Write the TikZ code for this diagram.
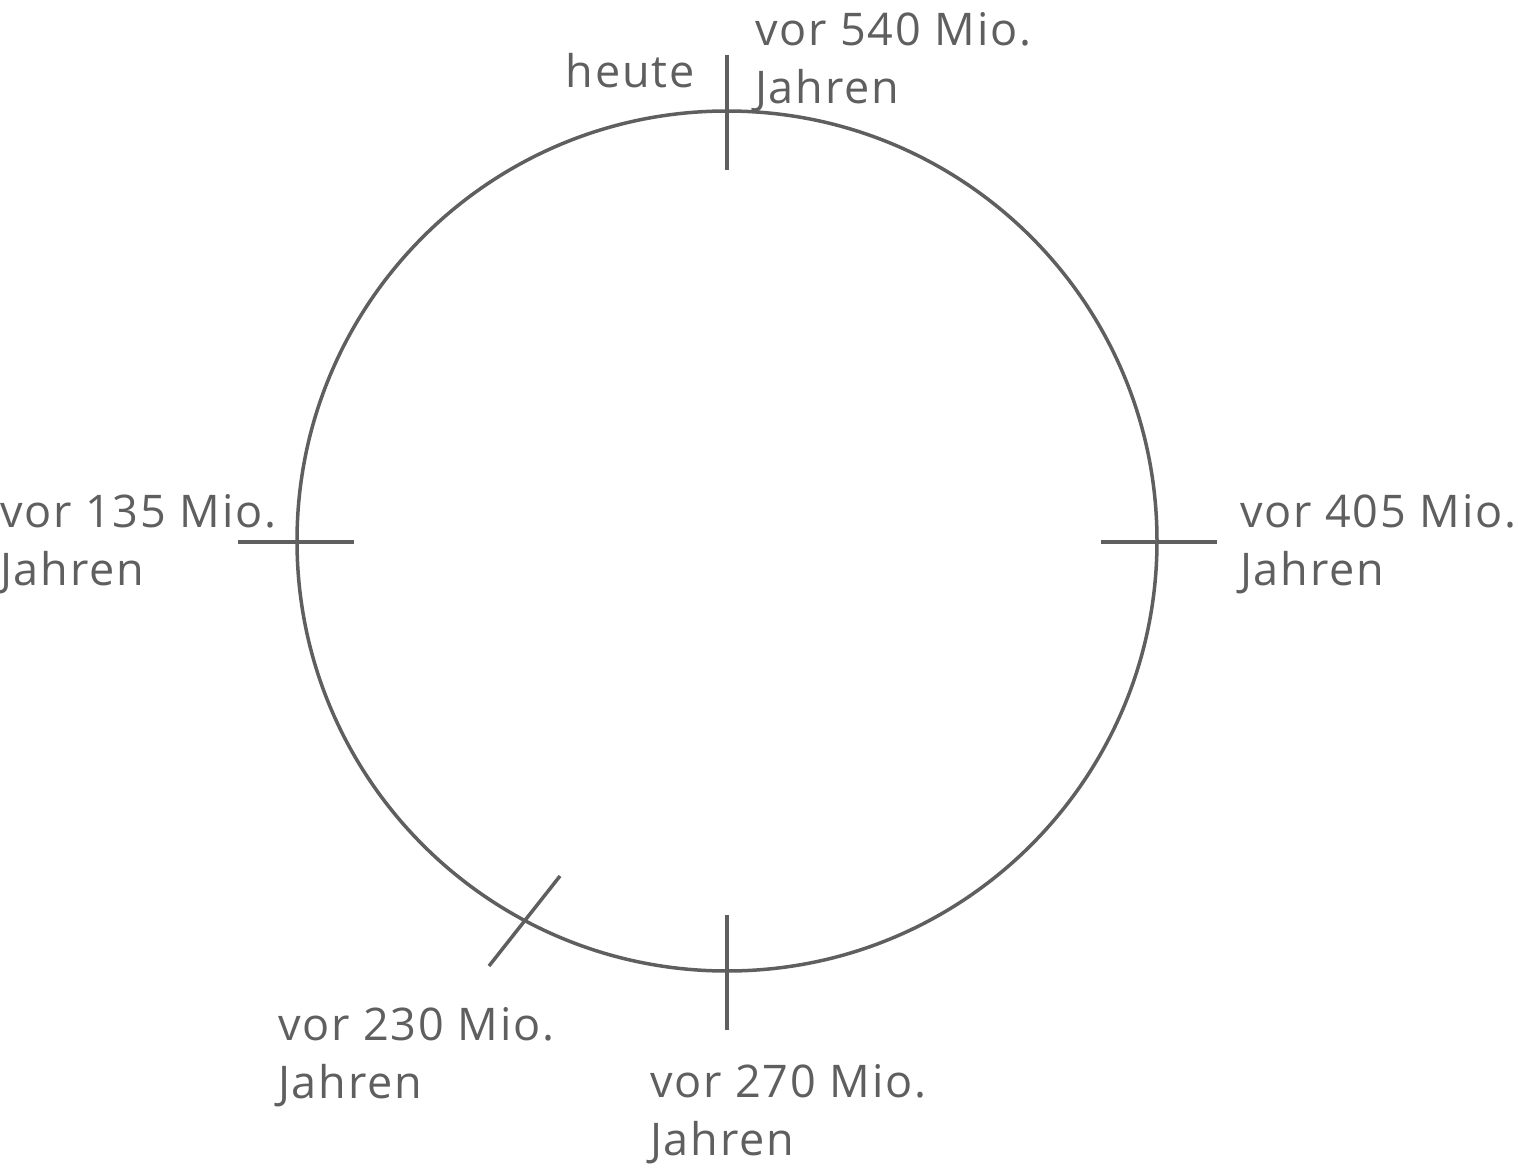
\documentclass[tikz,border=0pt]{standalone}
\usepackage{fontspec}
\setmainfont{Open Sans}[LetterSpace=4]
\definecolor{ink}{HTML}{5F5F5F}
\begin{document}
\begin{tikzpicture}[x=1pt,y=-1pt,
  lbl/.style={text=ink,inner sep=0pt,align=left,anchor=base west,font=\fontsize{45}{58}\selectfont},
  tick/.style={draw=ink,line width=3.5pt},
  ring/.style={draw=ink,line width=3.5pt}]
\path[use as bounding box] (0,0) rectangle (1518,1172);
\coordinate (c) at (727,541);
\draw[ring] (c) circle[radius=430];
\coordinate (t1) at (727,55);   \coordinate (t2) at (727,170);
\coordinate (l1) at (238,542);  \coordinate (l2) at (354,542);
\coordinate (r1) at (1101,542); \coordinate (r2) at (1217,542);
\coordinate (b1) at (727,915);  \coordinate (b2) at (727,1030);
\coordinate (d1) at (560,876);  \coordinate (d2) at (489,966);
\draw[tick] (t1) -- (t2);
\draw[tick] (l1) -- (l2);
\draw[tick] (r1) -- (r2);
\draw[tick] (b1) -- (b2);
\draw[tick] (d1) -- (d2);
\node[lbl,anchor=base east] (heute) at (695,88) {heute};
\node[lbl] (m540) at (755,103) {vor 540 Mio.\\Jahren};
\node[lbl] (m135) at (0,585) {vor 135 Mio.\\Jahren};
\node[lbl] (m405) at (1240,585) {vor 405 Mio.\\Jahren};
\node[lbl] (m230) at (278,1098) {vor 230 Mio.\\Jahren};
\node[lbl] (m270) at (650,1155) {vor 270 Mio.\\Jahren};
\end{tikzpicture}
\end{document}
